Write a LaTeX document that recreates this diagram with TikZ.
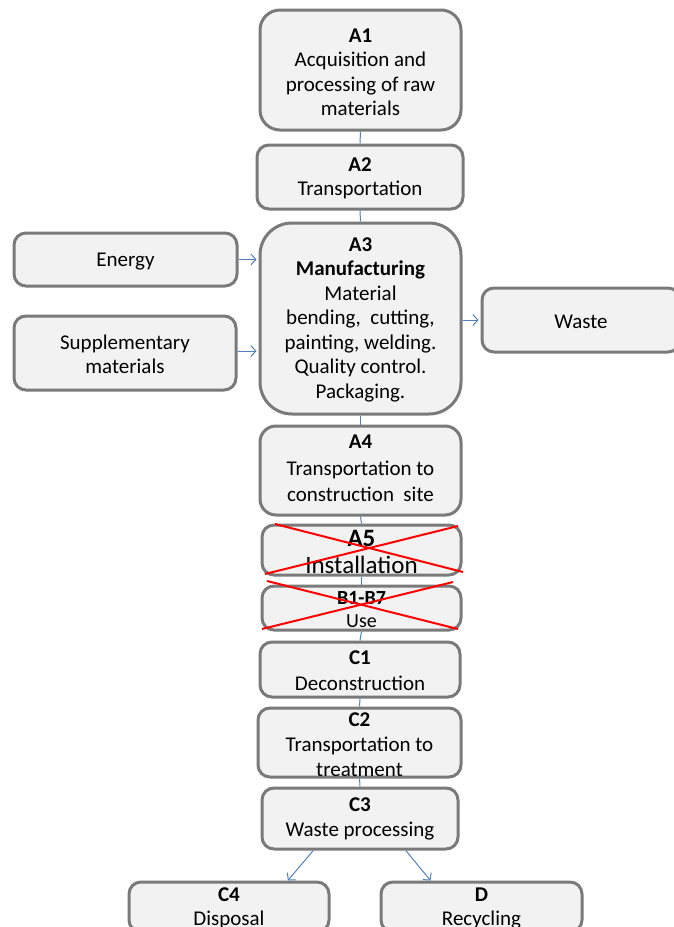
\documentclass[tikz,border=0pt]{standalone}
\usepackage{fontspec}
\setmainfont{Carlito}
\usetikzlibrary{arrows.meta,calc}
\definecolor{boxline}{RGB}{122,122,122}
\definecolor{boxfill}{RGB}{242,242,242}
\definecolor{conn}{RGB}{79,129,189}
\begin{document}
\begin{tikzpicture}[x=1pt,y=-1pt,
  box/.style={draw=boxline, line width=3pt, fill=boxfill, rounded corners=12pt, inner sep=0pt},
  txt/.style={align=center, inner sep=0pt, font=\fontsize{21}{24.5}\selectfont},
  link/.style={draw=conn, line width=1pt},
  arr/.style={link, -{Straight Barb[length=5pt,width=11pt]}, shorten >=2pt},
  cross/.style={draw=red, line width=2pt}]
\useasboundingbox (0,0) rectangle (674,927);
\clip (0,0) rectangle (674,927);

% boxes
\node[box, rounded corners=20pt, minimum width=201pt, minimum height=120pt] (a1) at (360.5,70) {};
\node[box, minimum width=206pt, minimum height=64pt] (a2) at (360,177) {};
\node[box, rounded corners=32pt, minimum width=201pt, minimum height=191pt] (a3) at (360.5,318.5) {};
\node[box, minimum width=223pt, minimum height=53pt] (en) at (125.5,259.5) {};
\node[box, minimum width=222pt, minimum height=74pt] (sup) at (125,353) {};
\node[box, minimum width=198pt, minimum height=64pt] (ws) at (581,320) {};
\node[box, rounded corners=16pt, minimum width=201pt, minimum height=89pt] (a4) at (360.5,470.5) {};
\node[box, minimum width=199pt, minimum height=50pt] (a5) at (361.5,550) {};
\node[box, minimum width=199pt, minimum height=44pt] (b) at (361.5,608) {};
\node[box, minimum width=200pt, minimum height=55pt] (c1) at (360,669.5) {};
\node[box, minimum width=203pt, minimum height=69pt] (c2) at (359.5,742.5) {};
\node[box, minimum width=196pt, minimum height=61pt] (c3) at (360,818.5) {};
\node[box, minimum width=200pt, minimum height=50pt] (c4) at (229,907) {};
\node[box, minimum width=201pt, minimum height=50pt] (d) at (481.5,907) {};

% connectors
\draw[link] (a1.south) -- (a2.north);
\draw[link] (a2.south) -- (a3.north);
\draw[link] (a3.south) -- (a4.north);
\draw[link] (a4.south) -- (a5.north);
\draw[link] (a5.south) -- (b.north);
\draw[link] (b.south) -- (c1.north);
\draw[link] (c1.south) -- (c2.north);
\draw[link] (c2.south) -- (c3.north);
\draw[arr] (en.east) -- (en.east -| a3.west);
\draw[arr] ($(sup.east)+(0,-2)$) -- ($(sup.east -| a3.west)+(0,-2)$);
\draw[arr] ($(a3.east)+(0,1.5)$) -- ($(a3.east -| ws.west)+(0,1.5)$);
\draw[arr, shorten >=0pt] ($(c3.south west)!0.265!(c3.south east)$) -- ($(c4.north west)!0.79!(c4.north east)$);
\draw[arr, shorten >=0pt] ($(c3.south west)!0.73!(c3.south east)$) -- ($(d.north west)!0.25!(d.north east)$);

% texts
\node[txt] (a1t) at (360.5,72.5) {\textbf{A1}\\Acquisition and\\processing of raw\\materials};
\node[txt] (a2t) at (360,178.5) {\textbf{A2}\\Transportation};
\node[txt] (a3t) at (360.5,319.5) {\textbf{A3}\\\textbf{Manufacturing}\\Material\\bending,~ cutting,\\painting, welding.\\Quality control.\\Packaging.};
\node[txt] (ent) at (125.5,261.5) {Energy};
\node[txt] (supt) at (125,354.5) {Supplementary\\materials};
\node[txt] (wst) at (581,321.5) {Waste};
\node[txt, font=\fontsize{21}{26.5}\selectfont] (a4t) at (360.5,468.5) {\textbf{A4}\\Transportation to\\construction~ site};
\node[txt, font=\fontsize{25}{27}\selectfont] (a5t) at (361.5,552) {\textbf{A5}\\Installation};
\node[txt, font=\fontsize{20}{23}\selectfont] (bt) at (361.5,610) {\textbf{B1-B7}\\Use};
\node[txt, font=\fontsize{21}{26}\selectfont] (c1t) at (360,670.5) {\textbf{C1}\\Deconstruction};
\node[txt, font=\fontsize{21}{25}\selectfont] (c2t) at (359.5,744.5) {\textbf{C2}\\Transportation to\\treatment};
\node[txt, font=\fontsize{21}{25}\selectfont] (c3t) at (360,819) {\textbf{C3}\\Waste processing};
\node[txt, font=\fontsize{21}{24}\selectfont] (c4t) at (229,908.5) {\textbf{C4}\\Disposal};
\node[txt, font=\fontsize{21}{24}\selectfont] (dt) at (481.5,908.5) {\textbf{D}\\Recycling};

% crosses
\draw[cross] (265,574) -- (458,526);
\draw[cross] (275,524) -- (463,572);
\draw[cross] (267,581) -- (458,629);
\draw[cross] (453,582) -- (262,629);
\end{tikzpicture}
\end{document}
